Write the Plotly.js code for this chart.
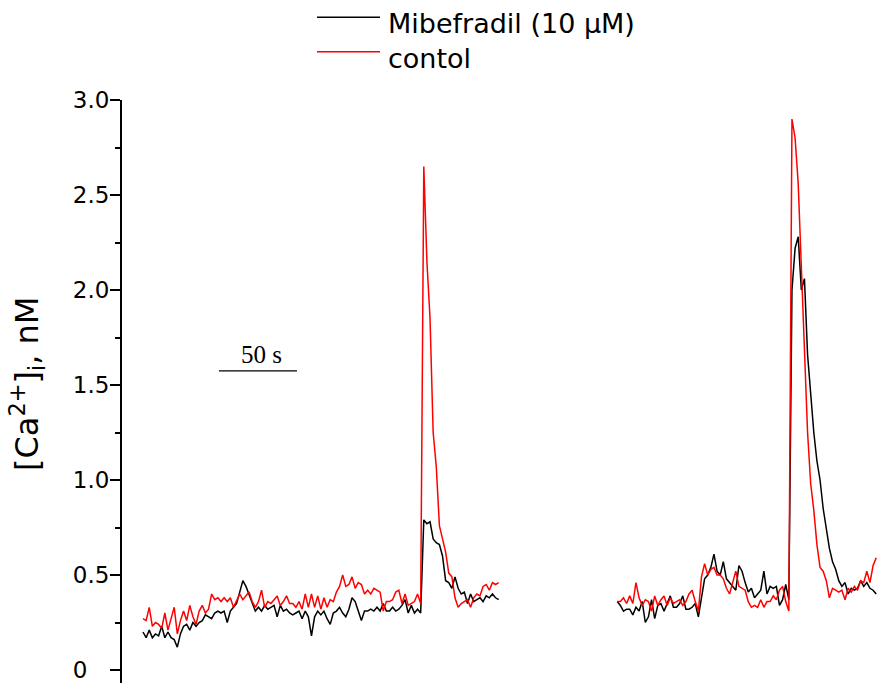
<!DOCTYPE html>
<html>
<head>
<meta charset="utf-8">
<script src="https://cdn.plot.ly/plotly-3.0.1.min.js"></script>
<style>html,body{margin:0;padding:0;background:#fff;}#chart{width:878px;height:683px;}</style>
</head>
<body>
<div id="chart"></div>
<script>
// sampling (seconds)
const sampleStep = 2;
const seg1Start = 0;
const seg2Start = 304;

// [Ca2+]i values
const controlSeg1 = [0.27,0.26,0.33,0.23,0.25,0.24,0.22,0.30,0.21,0.27,0.33,0.19,0.26,0.31,0.26,0.34,0.28,0.24,0.31,0.34,0.30,0.32,0.40,0.37,0.38,0.36,0.38,0.36,0.38,0.33,0.37,0.40,0.37,0.39,0.41,0.36,0.33,0.36,0.42,0.33,0.36,0.35,0.37,0.39,0.34,
  0.36,0.39,0.35,0.35,0.33,0.36,0.32,0.40,0.33,0.40,0.33,0.39,0.32,0.38,0.33,0.37,0.36,0.41,0.44,0.50,0.44,0.45,0.49,0.43,0.46,0.45,0.40,0.42,0.40,0.43,0.42,0.41,0.31,0.36,0.36,0.37,0.41,0.42,0.35,0.40,0.34,0.35,0.36,0.40,0.35,
  2.65,2.15,1.85,1.25,1.07,0.76,0.69,0.62,0.51,0.49,0.38,0.33,0.35,0.36,0.37,0.33,0.38,0.40,0.39,0.44,0.45,0.42,0.46,0.45,0.46];
const mibefradilSeg1 = [0.20,0.17,0.21,0.17,0.19,0.18,0.23,0.17,0.20,0.17,0.16,0.12,0.19,0.23,0.24,0.21,0.25,0.23,0.25,0.26,0.29,0.28,0.27,0.30,0.31,0.30,0.31,0.25,0.31,0.33,0.35,0.41,0.47,0.44,0.40,0.36,0.31,0.33,0.31,0.34,0.32,0.33,0.34,0.28,0.34,
  0.31,0.32,0.30,0.29,0.30,0.31,0.27,0.31,0.28,0.18,0.28,0.31,0.29,0.31,0.27,0.24,0.30,0.31,0.33,0.30,0.28,0.32,0.38,0.36,0.31,0.26,0.31,0.31,0.32,0.31,0.33,0.31,0.35,0.31,0.31,0.33,0.31,0.32,0.34,0.37,0.30,0.34,0.30,0.32,0.30,
  0.79,0.77,0.78,0.69,0.67,0.66,0.60,0.47,0.46,0.43,0.49,0.43,0.40,0.41,0.35,0.40,0.36,0.37,0.38,0.36,0.39,0.38,0.40,0.38,0.37];
const controlSeg2 = [0.36,0.36,0.38,0.35,0.39,0.35,0.46,0.38,0.34,0.37,0.36,0.31,0.39,0.34,0.37,0.39,0.34,0.38,0.35,0.36,0.37,0.34,0.36,0.40,0.42,0.36,0.31,0.49,0.56,0.50,0.53,0.54,0.50,0.50,0.48,0.43,0.40,0.46,0.52,0.44,0.43,0.42,0.36,0.33,0.34,0.33,0.37,0.33,0.36,0.36,0.39,0.37,0.42,0.44,0.36,0.31,
  2.90,2.80,2.56,2.15,1.72,1.25,0.98,0.84,0.66,0.54,0.52,0.47,0.38,0.43,0.42,0.41,0.42,0.37,0.43,0.41,0.44,0.42,0.47,0.46,0.52,0.46,0.55,0.59];
const mibefradilSeg2 = [0.36,0.34,0.31,0.32,0.32,0.29,0.33,0.31,0.36,0.25,0.28,0.37,0.27,0.34,0.35,0.31,0.35,0.39,0.33,0.33,0.35,0.39,0.32,0.32,0.33,0.35,0.28,0.37,0.48,0.50,0.54,0.61,0.52,0.50,0.57,0.48,0.46,0.44,0.42,0.55,0.52,0.46,0.41,0.43,0.38,0.40,0.42,0.52,0.40,0.44,0.43,0.44,0.34,0.37,0.45,0.37,
  2.00,2.22,2.28,2.00,2.06,1.66,1.45,1.25,1.10,1.00,0.85,0.74,0.64,0.57,0.53,0.47,0.44,0.46,0.40,0.43,0.42,0.43,0.47,0.44,0.46,0.43,0.42,0.40];

const seriesNames = ['Mibefradil (10 \u03bcM)', 'contol'];
const yTitle = '[Ca<sup>2+</sup>]<sub>i</sub>, nM';
const tickValues = [0, 0.5, 1.0, 1.5, 2.0, 2.5, 3.0];
const tickLabels = ['0\u2008\u2007', '0.5', '1.0', '1.5', '2.0', '2.5', '3.0'];
const minorTickValues = [0.25, 0.75, 1.25, 1.75, 2.25, 2.75];
const scaleBarSeconds = 50;
const scaleBarStart = 48.7;
const scaleBarLevel = 1.574;

function times(start, n) { const t = []; for (let i = 0; i < n; i++) t.push(start + i * sampleStep); return t; }
const t1 = times(seg1Start, controlSeg1.length);
const t2 = times(seg2Start, controlSeg2.length);
const tAll = t1.concat([null], t2);

const traces = [
  {x: tAll, y: mibefradilSeg1.concat([null], mibefradilSeg2), type: 'scatter', mode: 'lines', name: seriesNames[0],
   line: {color: '#000000', width: 1.5}, connectgaps: false},
  {x: tAll, y: controlSeg1.concat([null], controlSeg2), type: 'scatter', mode: 'lines', name: seriesNames[1],
   line: {color: '#ff0000', width: 1.5}, connectgaps: false}
];

const L = 122, T = 100, W = 756, H = 583;
function px(xp) { return (xp - L) / W; }
function py(yp) { return (T + H - yp) / H; }

const layout = {
  width: 878, height: 683,
  margin: {l: L, r: 0, t: T, b: 0},
  paper_bgcolor: '#ffffff', plot_bgcolor: '#ffffff',
  showlegend: false,
  font: {family: 'DejaVu Sans', color: '#000'},
  xaxis: {range: [-13.46, 471.15], visible: false, fixedrange: true},
  yaxis: {
    range: [-0.0684, 3.0], showline: true, linecolor: '#000', linewidth: 2,
    ticks: 'outside', ticklen: 10, tickwidth: 2, tickcolor: '#000',
    tickmode: 'array', tickvals: tickValues, ticktext: tickLabels,
    tickfont: {family: 'DejaVu Sans', size: 23, color: '#000'},
    ticklabelstandoff: -4, ticklabeloverflow: 'allow',
    showgrid: false, zeroline: false,
    minor: {tickmode: 'array', tickvals: minorTickValues, ticks: 'outside', ticklen: 5, tickwidth: 2, tickcolor: '#000', showgrid: false}
  },
  shapes: [
    {type: 'line', xref: 'paper', yref: 'paper', x0: px(317), x1: px(380), y0: py(17.3), y1: py(17.3), line: {color: '#000', width: 1.5}},
    {type: 'line', xref: 'paper', yref: 'paper', x0: px(317), x1: px(380), y0: py(51.7), y1: py(51.7), line: {color: '#ff0000', width: 1.5}},
    {type: 'line', xref: 'x', yref: 'y', x0: scaleBarStart, x1: scaleBarStart + scaleBarSeconds, y0: scaleBarLevel, y1: scaleBarLevel, line: {color: '#000', width: 1.2}}
  ],
  annotations: [
    {xref: 'paper', yref: 'paper', x: px(386), y: py(24), xanchor: 'left', yanchor: 'middle', showarrow: false,
     text: seriesNames[0], font: {family: 'DejaVu Sans', size: 27, color: '#000'}},
    {xref: 'paper', yref: 'paper', x: px(386), y: py(58), xanchor: 'left', yanchor: 'middle', showarrow: false,
     text: seriesNames[1], font: {family: 'DejaVu Sans', size: 27, color: '#000'}},
    {xref: 'x', yref: 'y', x: scaleBarStart + scaleBarSeconds / 2 + 2, y: 1.663, xanchor: 'center', yanchor: 'middle', showarrow: false,
     text: scaleBarSeconds + ' s', font: {family: 'Liberation Serif', size: 25, color: '#000'}},
    {xref: 'paper', yref: 'paper', x: px(27), y: py(384), xanchor: 'center', yanchor: 'middle', showarrow: false, textangle: -90,
     text: yTitle, font: {family: 'DejaVu Sans', size: 32, color: '#000'}}
  ]
};

Plotly.newPlot('chart', traces, layout, {staticPlot: true, displayModeBar: false});
</script>
</body>
</html>
